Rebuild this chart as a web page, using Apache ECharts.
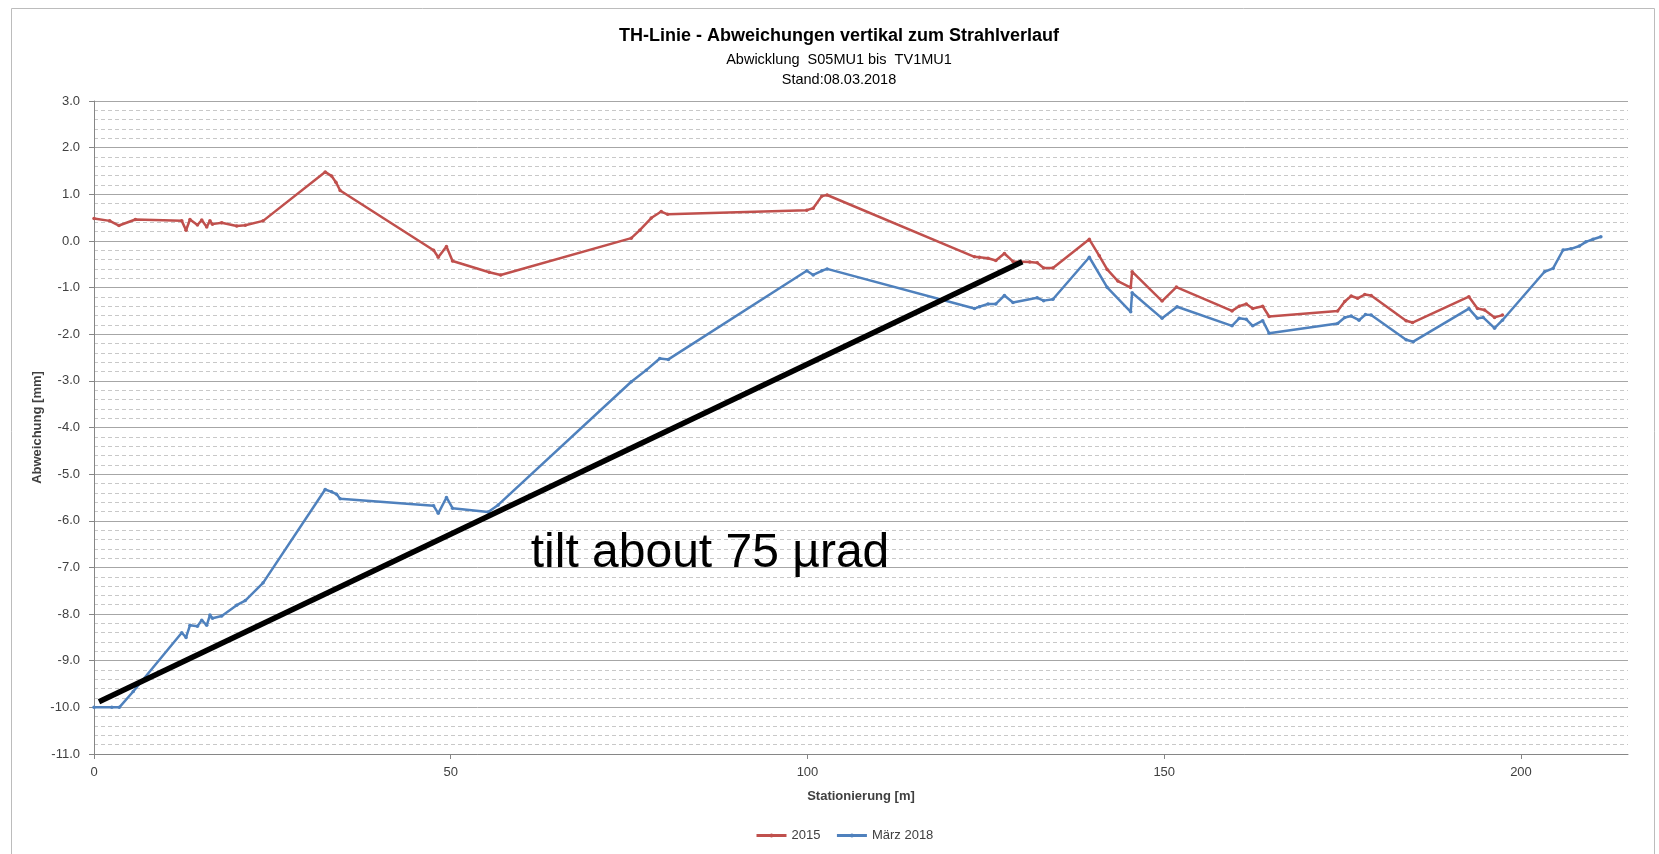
<!DOCTYPE html>
<html>
<head>
<meta charset="utf-8">
<title>TH-Linie</title>
<script src="https://cdn.jsdelivr.net/npm/echarts@6.0.0/dist/echarts.min.js"></script>
<style>
  html, body { margin: 0; padding: 0; background: #fff; }
  #chart { width: 1659px; height: 854px; }
</style>
</head>
<body>
<div id="chart"></div>
<script>
// Stationierung [m] / Abweichung [mm]
var x2015 = [0, 2.2, 3.5, 5.8, 12.3, 12.9, 13.45, 14.5, 15.1, 15.8, 16.25, 16.6, 17.9, 20.0, 21.2, 23.7,
  32.4, 33.3, 33.9, 34.5, 47.6, 48.25, 49.4, 50.25, 55.4, 57.0, 75.3, 76.5, 78.1, 79.5, 80.4,
  99.9, 100.8, 102.0, 102.75, 123.4, 124.1, 125.3, 126.4, 127.6, 128.8, 131.15, 132.2, 133.1, 134.4,
  139.5, 140.9, 142.0, 143.5, 145.3, 145.5, 149.7, 151.7, 159.5, 160.5, 161.5, 162.4, 163.8, 164.7,
  174.3, 175.3, 176.2, 177.1, 178.1, 179.0, 183.9, 184.8, 192.7, 193.9, 194.9, 196.3, 197.4];
var y2015 = [0.48, 0.43, 0.33, 0.46, 0.43, 0.23, 0.46, 0.34, 0.45, 0.30, 0.43, 0.36, 0.39, 0.32, 0.335, 0.43,
  1.48, 1.39, 1.26, 1.08, -0.2, -0.35, -0.12, -0.43, -0.67, -0.73, 0.06, 0.23, 0.49, 0.63, 0.57,
  0.66, 0.70, 0.96, 0.985, -0.34, -0.35, -0.37, -0.42, -0.27, -0.44, -0.45, -0.47, -0.58, -0.58,
  0.035, -0.32, -0.61, -0.86, -1.0, -0.66, -1.29, -0.99, -1.50, -1.40, -1.35, -1.45, -1.40, -1.62,
  -1.50, -1.30, -1.18, -1.23, -1.15, -1.17, -1.71, -1.75, -1.195, -1.45, -1.48, -1.64, -1.59];

var x2018 = [0, 2.5, 3.55, 5.5, 12.3, 12.9, 13.45, 14.5, 15.1, 15.8, 16.25, 16.6, 17.9, 20.0, 21.2, 23.7,
  32.4, 33.3, 34.0, 34.5, 47.6, 48.25, 49.4, 50.25, 55.25, 56.65, 75.3, 77.4, 79.3, 80.5,
  99.9, 100.8, 102.0, 102.75, 123.4, 124.1, 125.3, 126.4, 127.6, 128.8, 132.2, 133.1, 134.4,
  139.5, 142.0, 145.3, 145.5, 149.7, 151.8, 159.5, 160.5, 161.5, 162.4, 163.8, 164.7,
  174.3, 175.3, 176.2, 177.3, 178.2, 179.0, 183.9, 184.9, 192.7, 193.9, 194.7, 196.3, 197.4,
  203.3, 204.5, 205.9, 207.0, 208.2, 209.1, 210.1, 211.2];
var y2018 = [-10.0, -10.0, -10.0, -9.66, -8.40, -8.50, -8.24, -8.26, -8.13, -8.24, -8.02, -8.09, -8.04, -7.81, -7.71, -7.33,
  -5.33, -5.38, -5.43, -5.53, -5.68, -5.84, -5.50, -5.73, -5.81, -5.66, -3.02, -2.77, -2.52, -2.54,
  -0.64, -0.73, -0.64, -0.60, -1.45, -1.41, -1.35, -1.35, -1.17, -1.32, -1.22, -1.28, -1.25,
  -0.35, -0.995, -1.52, -1.11, -1.66, -1.41, -1.82, -1.66, -1.68, -1.82, -1.71, -1.98,
  -1.77, -1.64, -1.61, -1.70, -1.58, -1.59, -2.12, -2.16, -1.45, -1.66, -1.64, -1.87, -1.70,
  -0.66, -0.59, -0.195, -0.17, -0.11, -0.02, 0.035, 0.09];

// hand drawn tilt line (start / end)
var xTilt = [0.7, 130.1];
var yTilt = [-9.88, -0.445];

var xTicks = [0, 50, 100, 150, 200];

function pairs(xs, ys) {
  return xs.map(function (x, i) { return [x, ys[i]]; });
}

var font = "Liberation Sans";
var chart = echarts.init(document.getElementById("chart"));

var option = {
  animation: false,
  backgroundColor: "#fff",
  title: {
    text: "TH-Linie - Abweichungen vertikal zum Strahlverlauf",
    subtext: "Abwicklung  S05MU1 bis  TV1MU1\nStand:08.03.2018",
    left: 834,
    textAlign: "center",
    top: 22,
    itemGap: 5,
    textStyle: { fontFamily: font, fontSize: 18, fontWeight: "bold", color: "#000" },
    subtextStyle: { fontFamily: font, fontSize: 14.5, color: "#000", lineHeight: 20 }
  },
  legend: {
    data: ["2015", "März 2018"],
    left: 750,
    top: 824,
    itemWidth: 30,
    itemHeight: 5,
    itemGap: 15,
    lineStyle: { width: 3 },
    textStyle: { fontFamily: font, fontSize: 13, color: "#404040" }
  },
  grid: { left: 94, top: 101, right: 31, bottom: 100 },
  xAxis: {
    type: "value",
    min: 0,
    max: 215,
    interval: 50,
    name: "Stationierung [m]",
    nameLocation: "middle",
    nameGap: 36,
    nameTextStyle: { fontFamily: font, fontSize: 13, fontWeight: "bold", color: "#404040" },
    axisLine: { onZero: false, lineStyle: { color: "#868686" } },
    axisTick: { show: true, length: 5, customValues: xTicks, lineStyle: { color: "#868686" } },
    axisLabel: { customValues: xTicks, margin: 12, fontFamily: font, fontSize: 13, color: "#404040" },
    splitLine: { show: false }
  },
  yAxis: {
    type: "value",
    min: -11,
    max: 3,
    interval: 1,
    name: "Abweichung [mm]",
    nameLocation: "middle",
    nameRotate: 90,
    nameGap: 50,
    nameMoveOverlap: false,
    nameTextStyle: { fontFamily: font, fontSize: 13, fontWeight: "bold", color: "#404040" },
    axisLine: { show: true, onZero: false, lineStyle: { color: "#868686" } },
    axisTick: { show: true, length: 5, lineStyle: { color: "#868686" } },
    axisLabel: {
      margin: 14, fontFamily: font, fontSize: 13, color: "#404040",
      formatter: function (v) { return v.toFixed(1); }
    },
    splitLine: { lineStyle: { color: "#a6a6a6", width: 1 } },
    minorTick: { show: false, splitNumber: 5 },
    minorSplitLine: { show: true, lineStyle: { color: "#c8c8c8", type: [4, 3], width: 1 } }
  },
  graphic: [
    {
      type: "rect",
      shape: { x: 11.5, y: 8.5, width: 1643, height: 860 },
      style: { fill: "none", stroke: "#bcbcbc", lineWidth: 1 },
      silent: true, z: -10
    },
    {
      type: "text",
      x: 710,
      y: 554,
      style: {
        text: "tilt about 75 µrad",
        font: "48px 'Liberation Sans'",
        fill: "#000",
        align: "center",
        verticalAlign: "middle"
      },
      z: 100
    }
  ],
  series: [
    {
      name: "2015",
      type: "line",
      data: pairs(x2015, y2015),
      symbol: "circle",
      symbolSize: 3.5,
      lineStyle: { width: 2.5, color: "#C0504D" },
      itemStyle: { color: "#C0504D" },
      z: 3
    },
    {
      name: "März 2018",
      type: "line",
      data: pairs(x2018, y2018),
      symbol: "circle",
      symbolSize: 3.5,
      lineStyle: { width: 2.5, color: "#4F81BD" },
      itemStyle: { color: "#4F81BD" },
      z: 3
    },
    {
      name: "tilt",
      type: "line",
      data: pairs(xTilt, yTilt),
      symbol: "none",
      lineStyle: { width: 5.5, color: "#000" },
      z: 5
    }
  ]
};

chart.setOption(option);
</script>
</body>
</html>
